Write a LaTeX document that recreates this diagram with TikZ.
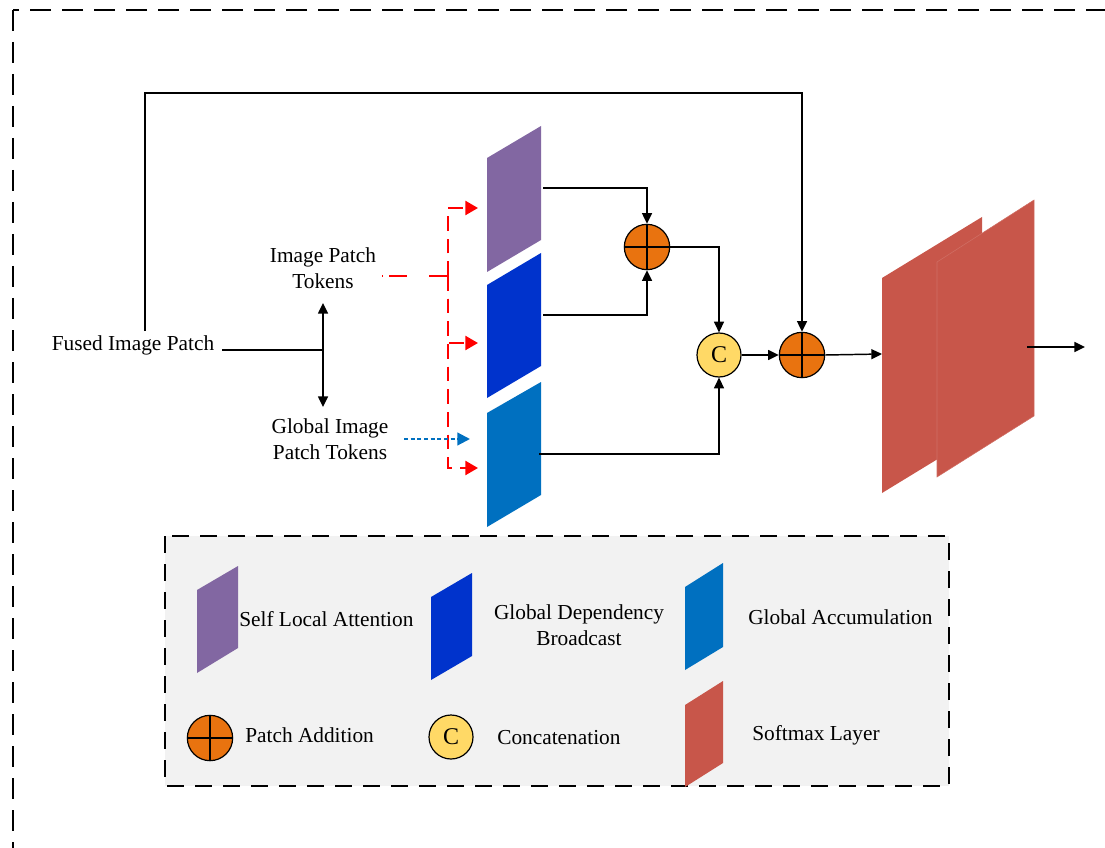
\documentclass[tikz,border=0pt]{standalone}
\usepackage{fontspec}
\setmainfont{Liberation Serif}
\usetikzlibrary{arrows.meta}
\definecolor{cpurple}{RGB}{130,103,162}
\definecolor{cblue}{RGB}{0,51,204}
\definecolor{clblue}{RGB}{0,112,192}
\definecolor{cred}{RGB}{200,86,74}
\definecolor{corange}{RGB}{233,115,15}
\definecolor{cyellow}{RGB}{255,217,102}
\definecolor{clegend}{RGB}{242,242,242}
\definecolor{cline}{RGB}{255,0,0}
\definecolor{cdot}{RGB}{0,112,192}
\begin{document}
\begin{tikzpicture}[x=0.75pt,y=-0.75pt,
  conn/.style={line width=1.1pt, line join=miter},
  arr/.style={conn,-{Triangle[length=8pt,width=7.5pt]}},
  dbl/.style={conn,{Triangle[length=8pt,width=7.5pt]}-{Triangle[length=8pt,width=7.5pt]}},
  redarr/.style={draw=cline, line width=1.8pt, dash pattern=on 11pt off 6pt, -{Triangle[length=9.5pt,width=10.5pt]}},
  addnode/.style={circle, draw, line width=0.9pt, fill=corange, minimum size=34pt, inner sep=0pt,
    path picture={\draw[line width=0.9pt] (path picture bounding box.north) -- (path picture bounding box.south)
      (path picture bounding box.west) -- (path picture bounding box.east);}},
  catnode/.style={circle, draw, line width=0.9pt, fill=cyellow, minimum size=33pt, inner sep=0pt,
    font=\fontsize{18pt}{18pt}\selectfont},
  lbl/.style={inner sep=0pt, font=\fontsize{16pt}{19.5pt}\selectfont, align=center},
  lgd/.style={inner sep=0pt, font=\fontsize{16pt}{19pt}\selectfont, align=center, anchor=west}
]
\useasboundingbox (0,0) rectangle (1105,848);
\clip (0,0) rectangle (1105,848);

% outer dashed frame
\draw[line width=1.9pt, dash pattern=on 16pt off 8pt] (13,10) rectangle (1250,1000);

% legend box
\draw[fill=clegend, line width=1.1pt, dash pattern=on 13pt off 8pt] (165,536) rectangle (949,786);

% main parallelograms
\fill[cpurple] (487,158) -- (541,126) -- (541,240) -- (487,272) -- cycle;
\fill[cblue]   (487,285) -- (541,253) -- (541,366) -- (487,398) -- cycle;
\fill[clblue]  (487,413) -- (541,382) -- (541,495) -- (487,527) -- cycle;

% softmax layers
\fill[cred] (882,278) -- (982,217) -- (982,432) -- (882,493) -- cycle;
\filldraw[fill=cred, draw=cred!85!white, line width=0.4pt] (937,262) -- (1034,200) -- (1034,416) -- (937,477) -- cycle;

% coordinates for connectors
\coordinate (sla-in) at (478,208);
\coordinate (gdb-in) at (478,343);
\coordinate (ga-in)  at (478,468);
\coordinate (sla-out) at (543,188);
\coordinate (gdb-out) at (543,315);
\coordinate (ga-out)  at (539,454);
\coordinate (sm-in)  at (882,354);
\coordinate (sm-out) at (1027,347);
\coordinate (out)    at (1085,347);
\coordinate (split)  at (323,350);
\coordinate (up)     at (323,303);
\coordinate (dn)     at (323,407);
\coordinate (tl)     at (145,93);
\coordinate (j)      at (448,276);
\coordinate (ipt-e)  at (382,276);
\coordinate (gt-s)   at (404,439);
\coordinate (gt-e)   at (470,439);

% operator nodes
\node[addnode] (add1) at (647,247) {};
\node[catnode] (cc)   at (719,355) {C};
\node[addnode] (add2) at (802,355) {};

% texts
\node[lbl] (fip)  at (133,345) {Fused Image Patch};
\node[lbl] (ipt)  at (323,268) {Image Patch\\Tokens};
\node[lbl] (gipt) at (330,439) {Global Image\\Patch Tokens};

% connectors
\draw[conn] ([xshift=6pt]fip.east |- split) -- (split);
\draw[dbl] (up) -- (dn);
\draw[arr] ([yshift=3pt]fip.north -| tl) -- (tl) -| (add2.north);

\draw[draw=cline, line width=1.8pt, dash pattern=on 0.9pt off 4.5pt on 13pt off 17pt on 14pt off 10pt] (ipt-e) -- (j);
\draw[draw=cline, line width=1.8pt] (j) ++(0,-5) -- ++(0,10);
\draw[redarr] (j) |- (sla-in);
\draw[redarr] (j) |- (gdb-in);
\draw[redarr] (j) |- (ga-in);
\draw[draw=cdot, line width=1.6pt, dash pattern=on 3pt off 2pt, -{Triangle[length=9.5pt,width=9.5pt]}] (gt-s) -- (gt-e);

\draw[arr] (sla-out) -| (add1.north);
\draw[arr] (gdb-out) -| (add1.south);
\draw[arr] (add1.east) -| (cc.north);
\draw[arr] (ga-out) -| (cc.south);
\draw[arr] (cc.east) -- (add2.west);
\draw[arr] (add2.east) -- (sm-in);
\draw[arr] (sm-out) -- (out);

% legend items
\fill[cpurple] (197,590) -- (238,566) -- (238,648) -- (197,673) -- cycle;
\fill[cblue]   (431,597) -- (472,573) -- (472,656) -- (431,680) -- cycle;
\fill[clblue]  (685,587) -- (723,563) -- (723,647) -- (685,670) -- cycle;
\fill[cred]    (685,705) -- (723,681) -- (723,763) -- (685,787) -- cycle;
\node[addnode] (ladd) at (210,738) {};
\node[catnode] (lcat) at (451,737) {C};

\node[lgd] (t1) at (239,619) {Self Local Attention};
\node[lbl] (t2) at (579,625) {Global Dependency\\Broadcast};
\node[lgd] (t3) at (748,617) {Global Accumulation};
\node[lgd] (t4) at (245,735) {Patch Addition};
\node[lgd] (t5) at (497,738) {Concatenation};
\node[lgd] (t6) at (752,735) {Softmax Layer};
\end{tikzpicture}
\end{document}
